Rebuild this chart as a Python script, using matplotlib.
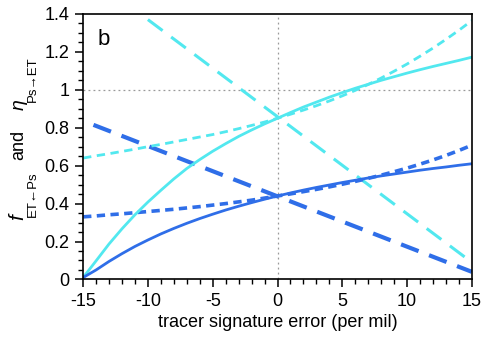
import numpy as np
import matplotlib
matplotlib.use("Agg")
from matplotlib import pyplot as plt
from matplotlib.ticker import MultipleLocator

plt.rcParams['font.family'] = ['Liberation Sans', 'DejaVu Sans']
plt.rcParams['axes.unicode_minus'] = False

# tracer signature error (per mil)
err = list(range(-15, 16))

# solid curves
f_blue = [0.010, 0.050, 0.095, 0.136, 0.174, 0.208, 0.240, 0.269, 0.296, 0.321,
          0.344, 0.366, 0.386, 0.405, 0.423, 0.440, 0.456, 0.471, 0.485, 0.498,
          0.511, 0.523, 0.535, 0.546, 0.556, 0.566, 0.576, 0.585, 0.593, 0.602, 0.610]
f_cyan = [0.010, 0.098, 0.187, 0.267, 0.341, 0.408, 0.470, 0.530, 0.585, 0.632,
          0.676, 0.716, 0.754, 0.788, 0.820, 0.850, 0.880, 0.909, 0.935, 0.961,
          0.985, 1.008, 1.029, 1.050, 1.069, 1.088, 1.106, 1.123, 1.139, 1.155, 1.172]

# short dashed curves
sd_blue = [0.330, 0.335, 0.341, 0.346, 0.352, 0.358, 0.364, 0.370, 0.377, 0.384,
           0.392, 0.400, 0.409, 0.418, 0.429, 0.440, 0.451, 0.463, 0.475, 0.488,
           0.502, 0.517, 0.533, 0.550, 0.568, 0.587, 0.608, 0.630, 0.654, 0.680, 0.708]
sd_cyan = [0.640, 0.652, 0.663, 0.675, 0.687, 0.700, 0.712, 0.725, 0.738, 0.751,
           0.764, 0.779, 0.795, 0.812, 0.830, 0.850, 0.871, 0.893, 0.916, 0.941,
           0.968, 0.997, 1.028, 1.062, 1.098, 1.136, 1.177, 1.220, 1.266, 1.314, 1.365]

# long dashed lines
ld_cyan_x = [-10, 15]
ld_cyan_y = [1.37, 0.09]
ld_blue_x = [-14.2, 15]
ld_blue_y = [0.815, 0.04]

blue = '#2f6ee8'
cyan = '#52e8ef'

fig = plt.figure(figsize=(4.86, 3.48), dpi=100)
ax = fig.add_axes([0.171, 0.197, 0.800, 0.763])

ax.axhline(1, color='#999999', lw=0.9, ls=(0, (1.5, 2.5)), zorder=1)
ax.axvline(0, color='#999999', lw=0.9, ls=(0, (1.5, 2.5)), zorder=1)

ax.plot(ld_cyan_x, ld_cyan_y, color=cyan, lw=2.2, ls=(0, (6, 3.5)))
ax.plot(ld_blue_x, ld_blue_y, color=blue, lw=3.0, ls=(0, (4.5, 2.7)))
ax.plot(err, sd_cyan, color=cyan, lw=2.0, ls=(0, (3, 2)))
ax.plot(err, sd_blue, color=blue, lw=2.6, ls=(0, (2.3, 1.5)))
ax.plot(err, f_cyan, color=cyan, lw=2.0)
ax.plot(err, f_blue, color=blue, lw=2.0)

ax.set_xlim(-15, 15)
ax.set_ylim(0, 1.4)
ax.set_xticks([-15, -10, -5, 0, 5, 10, 15])
ax.set_yticks([0, 0.2, 0.4, 0.6, 0.8, 1.0, 1.2, 1.4])
ax.set_yticklabels(['0', '0.2', '0.4', '0.6', '0.8', '1', '1.2', '1.4'])
ax.xaxis.set_minor_locator(MultipleLocator(1))
ax.yaxis.set_minor_locator(MultipleLocator(0.05))
ax.tick_params(which='major', direction='out', length=6, width=1.1, labelsize=13, pad=4)
ax.tick_params(which='minor', direction='out', length=3.5, width=1.0)
for s in ax.spines.values():
    s.set_linewidth(1.2)

ax.text(-13.85, 1.238, 'b', fontsize=16)

ax.set_xlabel('tracer signature error (per mil)', fontsize=13, labelpad=3)

# y label built from pieces (f_ET<-Ps  and  eta_Ps->ET)
fig.text(0.036, 0.375, 'f', fontsize=15, style='italic', rotation=90, ha='center', va='center')
fig.text(0.068, 0.441, 'ET\u2190Ps', fontsize=9.5, rotation=90, ha='center', va='center')
fig.text(0.039, 0.583, 'and', fontsize=13, rotation=90, ha='center', va='center')
fig.text(0.040, 0.700, '\u03b7', fontsize=14, style='italic', rotation=90, ha='center', va='center')
fig.text(0.068, 0.772, 'Ps\u2192ET', fontsize=9.5, rotation=90, ha='center', va='center')

fig.savefig('out.png', dpi=100)
